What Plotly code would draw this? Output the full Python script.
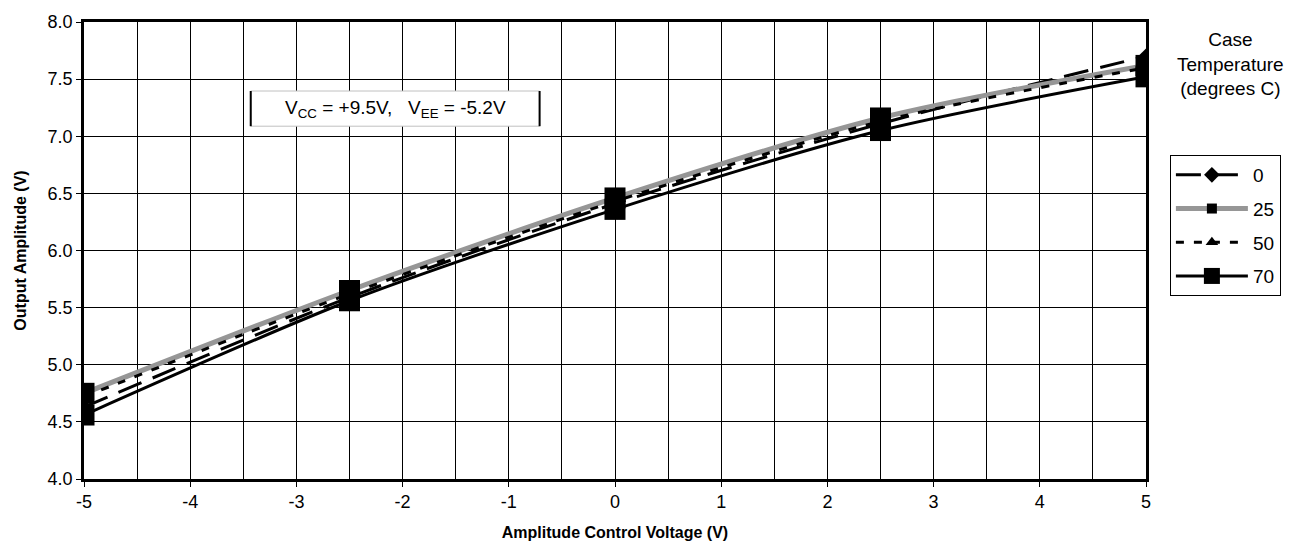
import plotly.graph_objects as go

# Amplitude control voltage (V)
x_vals = [-5, -2.5, 0, 2.5, 5]

# Output amplitude (V) per case temperature (degrees C)
series_names = ["0", "25", "50", "70"]
amp_0 = [4.63, 5.59, 6.41, 7.11, 7.70]
amp_25 = [4.75, 5.65, 6.46, 7.16, 7.62]
amp_50 = [4.72, 5.62, 6.43, 7.13, 7.60]
amp_70 = [4.56, 5.56, 6.36, 7.05, 7.52]

x_ticks = [-5, -4, -3, -2, -1, 0, 1, 2, 3, 4, 5]
y_ticks = [4.0, 4.5, 5.0, 5.5, 6.0, 6.5, 7.0, 7.5, 8.0]

FONT = "Liberation Sans, Arial, sans-serif"
FS = 18
FS_TITLE = 16
FS_TEXT = 19

styles = {
    "0": dict(color="black", width=3, dash="25px,12px", symbol="diamond", size=12, lsize=12),
    "25": dict(color="#969696", width=5, dash="solid", symbol="square", size=21, lsize=10),
    "50": dict(color="black", width=3, dash="8px,10px", symbol="triangle-up", size=11, lsize=11),
    "70": dict(color="black", width=3, dash="solid", symbol="square", size=21, lsize=16),
}
data = {"0": amp_0, "25": amp_25, "50": amp_50, "70": amp_70}

fig = go.Figure()
for name in series_names:
    s = styles[name]
    fig.add_trace(go.Scatter(
        x=x_vals, y=data[name], mode="lines+markers", name=name,
        line=dict(color=s["color"], width=s["width"], dash=s["dash"], shape="spline", smoothing=0.8),
        marker=dict(symbol=s["symbol"], size=s["size"], color="black", line=dict(width=0)),
        showlegend=False, hoverinfo="x+y+name",
    ))
# legend entries
for name in series_names:
    s = styles[name]
    fig.add_trace(go.Scatter(
        x=[None], y=[None], mode="lines+markers", name=name,
        legendgroup=name,
        line=dict(color=s["color"], width=s["width"], dash=s["dash"]),
        marker=dict(symbol=s["symbol"], size=s["lsize"], color="black", line=dict(width=0)),
        showlegend=True,
    ))

fig.update_layout(
    width=1293, height=558,
    margin=dict(l=84, r=141, t=15, b=79),
    paper_bgcolor="white", plot_bgcolor="white",
    font=dict(family=FONT, size=FS, color="black"),
    showlegend=True,
    legend=dict(
        x=1.0225, y=0.709, xanchor="left", yanchor="top",
        bordercolor="black", borderwidth=1, bgcolor="white",
        font=dict(size=FS_TEXT, family=FONT), itemwidth=72, tracegroupgap=6,
        itemclick=False, itemdoubleclick=False,
    ),
    xaxis=dict(
        range=[-5, 5], tickvals=x_ticks, ticktext=[str(v) for v in x_ticks],
        showgrid=True, gridcolor="black", gridwidth=1,
        minor=dict(dtick=0.5, showgrid=True, gridcolor="black", gridwidth=1),
        showline=True, linecolor="black", linewidth=2.5, mirror=True,
        ticks="outside", ticklen=5, tickcolor="black", zeroline=False,
        tickfont=dict(size=FS, family=FONT),
        title=dict(text="<b>Amplitude Control Voltage (V)</b>", font=dict(size=FS_TITLE, family=FONT), standoff=16),
    ),
    yaxis=dict(
        range=[4, 8], tickvals=y_ticks, ticktext=[f"{v:.1f}" for v in y_ticks],
        showgrid=True, gridcolor="black", gridwidth=1,
        showline=True, linecolor="black", linewidth=2.5, mirror=True,
        ticks="outside", ticklen=5, tickcolor="black", zeroline=False,
        tickfont=dict(size=FS, family=FONT), ticklabeloverflow="allow",
        title=dict(text="<b>Output Amplitude (V)</b>", font=dict(size=FS_TITLE, family=FONT), standoff=18),
    ),
    shapes=[
        dict(type="rect", xref="paper", yref="paper", x0=0.157, x1=0.429, y0=0.772, y1=0.849,
             fillcolor="white", line=dict(color="#c0c0c0", width=1), layer="above"),
        dict(type="line", xref="paper", yref="paper", x0=0.157, x1=0.157, y0=0.772, y1=0.849,
             line=dict(color="black", width=2), layer="above"),
        dict(type="line", xref="paper", yref="paper", x0=0.429, x1=0.429, y0=0.772, y1=0.849,
             line=dict(color="black", width=2), layer="above"),
    ],
    annotations=[
        dict(text="V<sub>CC</sub> = +9.5V,\u00a0\u00a0\u00a0V<sub>EE</sub> = -5.2V", xref="paper", yref="paper",
             x=0.293, y=0.8105, xanchor="center", yanchor="middle", showarrow=False,
             font=dict(size=FS_TEXT, family=FONT)),
        dict(text="Case<br>Temperature<br>(degrees C)", xref="paper", yref="paper",
             x=1.0796, y=0.99, xanchor="center", yanchor="top", showarrow=False,
             font=dict(size=FS_TEXT, family=FONT)),
    ],
)

fig.write_html("out.html", config={"displayModeBar": False},
               post_script="document.body.style.margin='0';")
